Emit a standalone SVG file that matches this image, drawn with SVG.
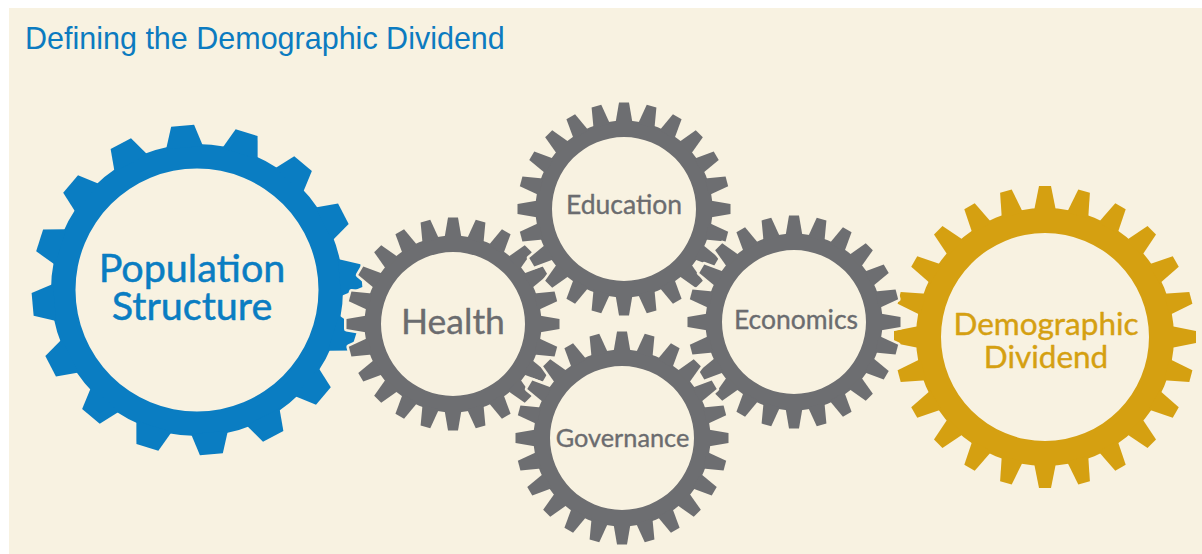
<svg xmlns="http://www.w3.org/2000/svg" xmlns:xlink="http://www.w3.org/1999/xlink" width="1202" height="554" viewBox="0 0 1202 554">
  <style>
    .title { font-family: "Liberation Sans", Arial, sans-serif; font-size: 30.5px; fill: #0C7BC0; }
    .lbl { font-family: Lato, "Noto Sans", sans-serif; text-anchor: middle; stroke-linejoin: round; }
    .lbl-blue { fill: #0A7DC2; stroke: #0A7DC2; stroke-width: 0.5; font-size: 39.5px; }
    .lbl-gray { fill: #6B6C6F; stroke: #6B6C6F; stroke-width: 0.35; }
    .lbl-gold { fill: #D5A011; stroke: #D5A011; stroke-width: 0.4; font-size: 31.5px; }
    .halo { fill: #F8F2E1; stroke: #F8F2E1; stroke-width: 5; stroke-linejoin: round; }
    .gray { fill: #6D6E71; }
    .blue { fill: #0A7DC2; }
    .gold { fill: #D5A011; }
  </style>
  <defs>
    <!-- single teeth, pointing up from the gear centre -->
    <polygon id="toothBlue" points="-18.5,-143 -11.5,-165 11.5,-165 18.5,-143"/>
    <polygon id="toothGray" points="-8.5,-86 -5,-106.5 5,-106.5 8.5,-86"/>
    <polygon id="toothGold" points="-11,-126 -6,-151 6,-151 11,-126"/>

    <!-- large blue gear: 16 teeth -->
    <g id="gearBlue">
      <path fill-rule="evenodd" d="M-146 0A146 146 0 1 0 146 0A146 146 0 1 0 -146 0ZM-121.5 0A121.5 121.5 0 1 0 121.5 0A121.5 121.5 0 1 0 -121.5 0Z"/>
      <use xlink:href="#toothBlue" transform="rotate(17.5)"/>
      <use xlink:href="#toothBlue" transform="rotate(40)"/>
      <use xlink:href="#toothBlue" transform="rotate(62.5)"/>
      <use xlink:href="#toothBlue" transform="rotate(85)"/>
      <use xlink:href="#toothBlue" transform="rotate(107.5)"/>
      <use xlink:href="#toothBlue" transform="rotate(130)"/>
      <use xlink:href="#toothBlue" transform="rotate(152.5)"/>
      <use xlink:href="#toothBlue" transform="rotate(175)"/>
      <use xlink:href="#toothBlue" transform="rotate(197.5)"/>
      <use xlink:href="#toothBlue" transform="rotate(220)"/>
      <use xlink:href="#toothBlue" transform="rotate(242.5)"/>
      <use xlink:href="#toothBlue" transform="rotate(265)"/>
      <use xlink:href="#toothBlue" transform="rotate(287.5)"/>
      <use xlink:href="#toothBlue" transform="rotate(310)"/>
      <use xlink:href="#toothBlue" transform="rotate(332.5)"/>
      <use xlink:href="#toothBlue" transform="rotate(355)"/>
    </g>

    <!-- small grey gear: 24 teeth -->
    <g id="gearGray">
      <path fill-rule="evenodd" d="M-88.5 0A88.5 88.5 0 1 0 88.5 0A88.5 88.5 0 1 0 -88.5 0ZM-72 0A72 72 0 1 0 72 0A72 72 0 1 0 -72 0Z"/>
      <use xlink:href="#toothGray" transform="rotate(0)"/>
      <use xlink:href="#toothGray" transform="rotate(15)"/>
      <use xlink:href="#toothGray" transform="rotate(30)"/>
      <use xlink:href="#toothGray" transform="rotate(45)"/>
      <use xlink:href="#toothGray" transform="rotate(60)"/>
      <use xlink:href="#toothGray" transform="rotate(75)"/>
      <use xlink:href="#toothGray" transform="rotate(90)"/>
      <use xlink:href="#toothGray" transform="rotate(105)"/>
      <use xlink:href="#toothGray" transform="rotate(120)"/>
      <use xlink:href="#toothGray" transform="rotate(135)"/>
      <use xlink:href="#toothGray" transform="rotate(150)"/>
      <use xlink:href="#toothGray" transform="rotate(165)"/>
      <use xlink:href="#toothGray" transform="rotate(180)"/>
      <use xlink:href="#toothGray" transform="rotate(195)"/>
      <use xlink:href="#toothGray" transform="rotate(210)"/>
      <use xlink:href="#toothGray" transform="rotate(225)"/>
      <use xlink:href="#toothGray" transform="rotate(240)"/>
      <use xlink:href="#toothGray" transform="rotate(255)"/>
      <use xlink:href="#toothGray" transform="rotate(270)"/>
      <use xlink:href="#toothGray" transform="rotate(285)"/>
      <use xlink:href="#toothGray" transform="rotate(300)"/>
      <use xlink:href="#toothGray" transform="rotate(315)"/>
      <use xlink:href="#toothGray" transform="rotate(330)"/>
      <use xlink:href="#toothGray" transform="rotate(345)"/>
    </g>

    <!-- gold gear: 24 teeth -->
    <g id="gearGold">
      <path fill-rule="evenodd" d="M-129 0A129 129 0 1 0 129 0A129 129 0 1 0 -129 0ZM-104 0A104 104 0 1 0 104 0A104 104 0 1 0 -104 0Z"/>
      <use xlink:href="#toothGold" transform="rotate(0)"/>
      <use xlink:href="#toothGold" transform="rotate(15)"/>
      <use xlink:href="#toothGold" transform="rotate(30)"/>
      <use xlink:href="#toothGold" transform="rotate(45)"/>
      <use xlink:href="#toothGold" transform="rotate(60)"/>
      <use xlink:href="#toothGold" transform="rotate(75)"/>
      <use xlink:href="#toothGold" transform="rotate(90)"/>
      <use xlink:href="#toothGold" transform="rotate(105)"/>
      <use xlink:href="#toothGold" transform="rotate(120)"/>
      <use xlink:href="#toothGold" transform="rotate(135)"/>
      <use xlink:href="#toothGold" transform="rotate(150)"/>
      <use xlink:href="#toothGold" transform="rotate(165)"/>
      <use xlink:href="#toothGold" transform="rotate(180)"/>
      <use xlink:href="#toothGold" transform="rotate(195)"/>
      <use xlink:href="#toothGold" transform="rotate(210)"/>
      <use xlink:href="#toothGold" transform="rotate(225)"/>
      <use xlink:href="#toothGold" transform="rotate(240)"/>
      <use xlink:href="#toothGold" transform="rotate(255)"/>
      <use xlink:href="#toothGold" transform="rotate(270)"/>
      <use xlink:href="#toothGold" transform="rotate(285)"/>
      <use xlink:href="#toothGold" transform="rotate(300)"/>
      <use xlink:href="#toothGold" transform="rotate(315)"/>
      <use xlink:href="#toothGold" transform="rotate(330)"/>
      <use xlink:href="#toothGold" transform="rotate(345)"/>
    </g>
  </defs>

  <!-- page -->
  <rect x="0" y="0" width="1202" height="554" fill="#FFFFFF"/>
  <rect x="9" y="8" width="1193" height="546" fill="#F8F2E1"/>

  <text class="title" x="25" y="49">Defining the Demographic Dividend</text>

  <g id="node-population-structure">
    <use xlink:href="#gearBlue" class="blue" transform="translate(197,290)"/>
    <text class="lbl lbl-blue" x="192" y="282">Population</text>
    <text class="lbl lbl-blue" x="192" y="320">Structure</text>
  </g>

  <g id="node-demographic-dividend">
    <use xlink:href="#gearGold" class="gold" transform="translate(1045,337)"/>
    <text class="lbl lbl-gold" x="1046" y="335">Demographic</text>
    <text class="lbl lbl-gold" x="1046" y="368">Dividend</text>
  </g>

  <g id="node-health">
    <use xlink:href="#gearGray" class="halo" transform="translate(453,324)"/>
    <use xlink:href="#gearGray" class="gray" transform="translate(453,324)"/>
    <text class="lbl lbl-gray" x="453" y="334" font-size="35.5">Health</text>
  </g>

  <g id="node-education">
    <use xlink:href="#gearGray" class="halo" transform="translate(624,209)"/>
    <use xlink:href="#gearGray" class="gray" transform="translate(624,209)"/>
    <text class="lbl lbl-gray" x="624" y="214" font-size="26.5">Education</text>
  </g>

  <g id="node-economics">
    <use xlink:href="#gearGray" class="halo" transform="translate(794,322)"/>
    <use xlink:href="#gearGray" class="gray" transform="translate(794,322)"/>
    <text class="lbl lbl-gray" x="796" y="329" font-size="26.5">Economics</text>
  </g>

  <g id="node-governance">
    <use xlink:href="#gearGray" class="halo" transform="translate(622,438)"/>
    <use xlink:href="#gearGray" class="gray" transform="translate(622,438)"/>
    <text class="lbl lbl-gray" x="622.5" y="447" font-size="25.3">Governance</text>
  </g>
</svg>
